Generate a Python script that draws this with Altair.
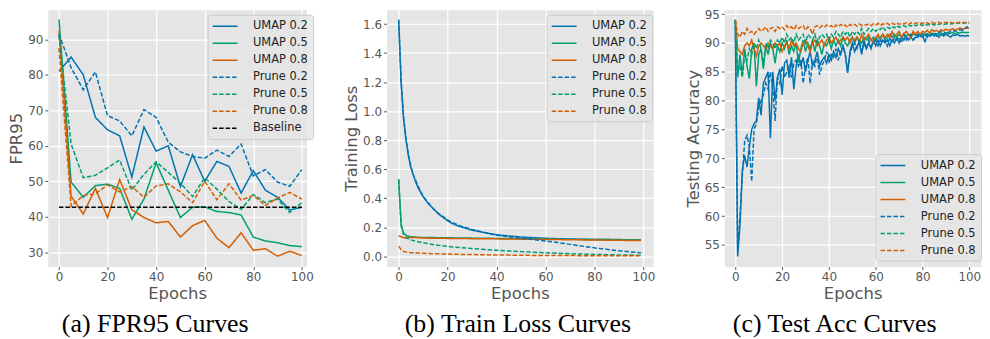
import altair as alt
import pandas as pd

# ---------------- data ----------------
SERIES = ["UMAP 0.2", "UMAP 0.5", "UMAP 0.8", "Prune 0.2", "Prune 0.5", "Prune 0.8"]
COLORS = ["#0173B2", "#029E73", "#D55E00", "#0173B2", "#029E73", "#D55E00"]

# (a) FPR95, every 5 epochs
epochs_a = list(range(0, 101, 5))
fpr_umap02 = [81.0, 85.0, 80.0, 68.0, 64.5, 62.8, 51.2, 65.3, 58.5, 60.0, 48.5,
              57.5, 50.0, 55.6, 54.2, 46.7, 53.0, 47.5, 45.5, 41.9, 42.7]
fpr_umap05 = [95.6, 49.8, 45.5, 48.8, 49.2, 48.0, 39.3, 45.0, 55.2, 47.5, 39.8,
              42.7, 42.8, 41.5, 41.2, 40.5, 34.3, 33.2, 32.7, 31.9, 31.6]
fpr_umap08 = [92.5, 45.8, 40.8, 48.0, 39.8, 50.5, 42.0, 39.8, 38.3, 38.7, 34.3,
              37.5, 39.0, 34.0, 31.3, 35.5, 30.6, 31.0, 28.9, 30.3, 29.1]
fpr_prune02 = [91.5, 82.0, 75.8, 80.8, 68.5, 67.0, 62.8, 70.2, 68.0, 61.0, 58.3,
               57.0, 56.5, 58.8, 57.0, 60.5, 51.5, 53.3, 49.8, 48.6, 53.3]
fpr_prune05 = [91.0, 60.5, 51.0, 51.7, 53.8, 56.0, 47.5, 52.0, 55.5, 52.5, 49.5,
               45.7, 51.0, 47.8, 44.3, 42.1, 46.3, 44.0, 45.0, 41.2, 44.0]
fpr_prune08 = [87.5, 43.0, 46.0, 46.5, 49.0, 47.0, 48.5, 45.5, 48.7, 49.3, 47.0,
               44.0, 50.0, 44.8, 49.3, 44.7, 46.0, 43.2, 45.3, 46.9, 45.0]
baseline_epochs = [0, 100]
baseline_fpr = [42.7, 42.7]

# (b) training loss, read at selected epochs
epochs_b = [0, 1, 2, 3, 4, 5, 6, 7, 8, 9, 10, 12, 14, 16, 18, 20, 22, 25, 28, 30,
            33, 36, 40, 45, 50, 55, 60, 65, 70, 75, 80, 85, 90, 95, 99]
loss_umap02 = [1.63, 1.20, 0.95, 0.80, 0.69, 0.61, 0.56, 0.51, 0.47, 0.44, 0.41,
               0.365, 0.33, 0.295, 0.27, 0.245, 0.225, 0.205, 0.19, 0.18, 0.17,
               0.16, 0.148, 0.14, 0.133, 0.128, 0.124, 0.121, 0.119, 0.117,
               0.116, 0.115, 0.114, 0.113, 0.112]
loss_umap05 = [0.53, 0.22, 0.16, 0.145, 0.138, 0.135, 0.133, 0.132, 0.131, 0.13,
               0.13, 0.129, 0.129, 0.128, 0.128, 0.127, 0.127, 0.126, 0.126,
               0.125, 0.125, 0.124, 0.123, 0.122, 0.121, 0.12, 0.119, 0.118,
               0.117, 0.116, 0.116, 0.115, 0.115, 0.114, 0.114]
loss_umap08 = [0.14, 0.135, 0.128, 0.125, 0.127, 0.13, 0.13, 0.129, 0.128, 0.127,
               0.126, 0.125, 0.125, 0.124, 0.124, 0.123, 0.123, 0.122, 0.122,
               0.121, 0.121, 0.12, 0.12, 0.119, 0.118, 0.117, 0.116, 0.115,
               0.114, 0.113, 0.112, 0.111, 0.11, 0.109, 0.108]
loss_prune02 = [1.63, 1.21, 0.96, 0.81, 0.70, 0.62, 0.56, 0.52, 0.48, 0.445, 0.415,
                0.37, 0.33, 0.30, 0.275, 0.25, 0.232, 0.21, 0.195, 0.185, 0.172,
                0.16, 0.145, 0.135, 0.125, 0.115, 0.105, 0.095, 0.082, 0.07,
                0.058, 0.048, 0.038, 0.03, 0.024]
loss_prune05 = [0.53, 0.21, 0.15, 0.13, 0.12, 0.113, 0.108, 0.104, 0.10, 0.097,
                0.093, 0.087, 0.081, 0.076, 0.072, 0.068, 0.064, 0.06, 0.056,
                0.054, 0.05, 0.046, 0.042, 0.037, 0.032, 0.028, 0.024, 0.021,
                0.018, 0.015, 0.013, 0.011, 0.009, 0.008, 0.007]
loss_prune08 = [0.07, 0.045, 0.035, 0.03, 0.027, 0.025, 0.024, 0.023, 0.022, 0.021,
                0.02, 0.019, 0.018, 0.017, 0.016, 0.015, 0.014, 0.013, 0.012,
                0.012, 0.011, 0.01, 0.009, 0.008, 0.007, 0.006, 0.006, 0.005,
                0.005, 0.004, 0.004, 0.004, 0.003, 0.003, 0.003]

# (c) testing accuracy, every epoch 0..100
epochs_c = list(range(0, 101))
acc_umap02 = [94.0, 53.0, 58.5, 68.0, 70.5, 68.5, 72.0, 75.0, 76.0, 76.5,
              80.5, 77.5, 83.0, 84.0, 85.0, 73.5, 85.0, 80.0, 84.0, 85.5,
              81.0, 86.5, 87.0, 84.0, 87.5, 82.0, 86.0, 88.0, 86.0, 87.5,
              85.0, 87.0, 88.5, 86.0, 87.0, 88.5, 86.0, 87.0, 87.5, 86.5,
              88.0, 87.0, 88.5, 87.5, 89.0, 88.0, 89.5, 88.0, 84.8, 88.5,
              90.0, 88.5, 89.5, 90.0, 88.0, 90.5, 89.0, 90.0, 89.0, 90.5,
              89.5, 90.5, 89.5, 90.5, 90.0, 90.5, 89.5, 90.5, 90.0, 91.0,
              90.0, 91.0, 90.5, 91.0, 90.5, 91.0, 90.5, 91.0, 91.0, 91.5,
              91.0, 91.5, 91.0, 91.5, 91.5, 91.2, 91.5, 91.0, 91.5, 91.2,
              91.5, 91.3, 91.0, 91.4, 91.3, 91.5, 91.2, 91.3, 91.2, 91.3, 91.2]
acc_umap05 = [94.0, 84.0, 88.0, 84.5, 89.0, 86.0, 83.8, 89.0, 90.0, 82.5,
              88.0, 89.0, 85.5, 89.5, 88.0, 90.0, 89.0, 86.5, 89.5, 88.5,
              90.0, 89.0, 90.5, 88.0, 89.5, 88.5, 90.0, 86.5, 89.0, 90.5,
              88.5, 90.0, 89.0, 90.5, 88.5, 90.5, 89.5, 88.0, 90.0, 89.5,
              90.5, 89.0, 90.5, 89.5, 90.5, 89.5, 91.0, 90.0, 89.5, 90.5,
              91.0, 90.0, 91.0, 90.5, 90.0, 91.0, 90.5, 91.0, 90.5, 91.0,
              90.5, 91.0, 91.0, 91.5, 90.5, 91.0, 91.5, 91.0, 91.5, 91.0,
              91.5, 91.0, 91.5, 91.2, 91.5, 91.0, 91.6, 91.3, 91.5, 91.2,
              91.6, 91.4, 91.6, 91.3, 91.7, 91.5, 91.6, 91.4, 91.7, 91.5,
              91.8, 91.6, 91.7, 91.8, 91.6, 91.8, 91.7, 91.9, 91.8, 91.8, 91.8]
acc_umap08 = [94.0, 89.0, 88.5, 88.0, 89.5, 90.0, 89.5, 90.5, 89.0, 87.7,
              89.5, 90.0, 89.5, 89.0, 90.0, 89.5, 89.0, 90.0, 89.5, 90.0,
              88.5, 89.5, 90.0, 89.0, 90.5, 89.5, 90.0, 89.0, 88.5, 90.0,
              90.5, 89.5, 88.5, 90.0, 90.5, 89.5, 90.0, 90.5, 89.5, 90.5,
              91.0, 90.0, 90.5, 91.0, 90.0, 90.5, 91.0, 90.5, 91.0, 90.0,
              91.0, 90.5, 91.0, 90.0, 91.5, 90.5, 91.0, 91.5, 90.5, 90.0,
              91.0, 91.5, 90.5, 91.5, 91.0, 91.5, 91.0, 92.0, 91.0, 91.5,
              92.0, 91.0, 91.5, 92.0, 91.5, 91.0, 92.0, 91.5, 92.0, 91.5,
              92.0, 91.8, 92.2, 91.7, 92.3, 92.0, 92.2, 91.9, 92.3, 92.1,
              92.4, 92.2, 92.3, 92.5, 92.2, 92.4, 92.6, 92.4, 92.5, 92.6, 92.5]
acc_prune02 = [94.0, 54.0, 60.0, 67.0, 73.0, 74.0, 72.0, 66.0, 75.0, 76.0,
               79.0, 80.0, 81.0, 83.0, 82.0, 85.0, 82.0, 76.5, 84.0, 83.0,
               86.0, 84.0, 85.0, 86.0, 84.0, 86.5, 87.0, 86.0, 87.0, 83.0,
               86.0, 87.5, 83.0, 87.0, 86.0, 88.0, 84.5, 86.0, 87.0, 88.5,
               86.5, 88.0, 87.5, 89.0, 87.0, 88.5, 89.5, 88.0, 85.0, 88.0,
               89.5, 90.0, 89.0, 90.5, 88.5, 90.0, 89.0, 90.5, 89.5, 90.0,
               90.5, 89.5, 90.5, 90.0, 90.5, 89.5, 91.0, 90.0, 91.0, 90.5,
               91.0, 90.0, 91.5, 90.5, 91.0, 91.5, 90.5, 91.0, 91.5, 91.0,
               91.5, 90.0, 91.5, 91.0, 91.5, 91.8, 91.2, 91.8, 92.0, 91.5,
               92.0, 91.8, 92.0, 92.2, 92.0, 92.2, 92.3, 92.2, 92.4, 92.8, 92.5]
acc_prune05 = [94.0, 85.0, 86.0, 84.0, 88.0, 87.0, 89.0, 88.0, 90.0, 89.0,
               90.5, 89.0, 86.0, 90.0, 89.0, 90.5, 90.0, 89.0, 90.5, 90.0,
               91.0, 90.0, 91.5, 90.5, 91.0, 90.0, 91.5, 90.5, 91.0, 91.5,
               90.0, 91.5, 91.0, 90.5, 91.5, 90.0, 91.0, 91.5, 91.0, 91.5,
               90.5, 91.5, 91.0, 92.0, 91.5, 91.0, 92.0, 91.5, 92.0, 91.0,
               92.0, 91.5, 92.0, 91.5, 92.5, 91.5, 92.0, 92.5, 92.0, 92.5,
               92.0, 92.5, 92.3, 92.8, 92.2, 92.7, 92.5, 92.9, 92.6, 93.0,
               92.7, 92.9, 93.0, 92.8, 93.1, 92.9, 93.2, 93.0, 93.1, 93.2,
               93.0, 93.3, 93.1, 93.2, 93.3, 93.1, 93.3, 93.2, 93.4, 93.2,
               93.3, 93.4, 93.3, 93.4, 93.3, 93.5, 93.4, 93.4, 93.5, 93.4, 93.4]
acc_prune08 = [94.0, 91.5, 91.0, 92.0, 91.5, 92.5, 91.8, 92.0, 91.5, 92.0,
               92.5, 92.0, 92.3, 92.8, 92.0, 92.5, 92.7, 92.0, 92.8, 92.5,
               92.8, 92.3, 93.0, 92.5, 92.8, 92.3, 93.0, 92.5, 92.8, 93.0,
               92.2, 92.8, 92.5, 91.5, 92.8, 93.0, 92.6, 93.0, 92.7, 93.1,
               92.8, 93.0, 92.6, 93.1, 92.8, 93.2, 92.9, 93.1, 92.7, 93.2,
               93.0, 93.2, 92.9, 93.3, 93.0, 93.2, 93.1, 93.3, 93.0, 93.3,
               93.1, 93.4, 93.0, 93.3, 93.2, 93.4, 93.1, 93.4, 93.2, 93.5,
               93.2, 93.4, 93.3, 93.5, 93.2, 93.5, 93.3, 93.4, 93.5, 93.3,
               93.5, 93.4, 93.5, 93.3, 93.6, 93.4, 93.5, 93.6, 93.4, 93.5,
               93.6, 93.5, 93.6, 93.4, 93.6, 93.5, 93.6, 93.5, 93.6, 93.5, 93.6]


def long_df(parts):
    rows = []
    for name, xs, ys in parts:
        for x, y in zip(xs, ys):
            rows.append({"epoch": x, "value": y, "series": name})
    return pd.DataFrame(rows)


df_a = long_df([
    ("UMAP 0.2", epochs_a, fpr_umap02), ("UMAP 0.5", epochs_a, fpr_umap05),
    ("UMAP 0.8", epochs_a, fpr_umap08), ("Prune 0.2", epochs_a, fpr_prune02),
    ("Prune 0.5", epochs_a, fpr_prune05), ("Prune 0.8", epochs_a, fpr_prune08),
    ("Baseline", baseline_epochs, baseline_fpr)])
df_b = long_df([
    ("UMAP 0.2", epochs_b, loss_umap02), ("UMAP 0.5", epochs_b, loss_umap05),
    ("UMAP 0.8", epochs_b, loss_umap08), ("Prune 0.2", epochs_b, loss_prune02),
    ("Prune 0.5", epochs_b, loss_prune05), ("Prune 0.8", epochs_b, loss_prune08)])
df_c = long_df([
    ("UMAP 0.2", epochs_c, acc_umap02), ("UMAP 0.5", epochs_c, acc_umap05),
    ("UMAP 0.8", epochs_c, acc_umap08), ("Prune 0.2", epochs_c, acc_prune02),
    ("Prune 0.5", epochs_c, acc_prune05), ("Prune 0.8", epochs_c, acc_prune08)])

SOLID = [1, 0]
DASH = [4.5, 2]
FONT = "DejaVu Sans"


def panel(df, names, colors, dashes, xdom, ydom, yticks, yfmt, ytitle,
          leg_x, leg_y, caption, cap_dx, w, h):
    leg = alt.Legend(title=None, orient="none", legendX=leg_x, legendY=leg_y,
                     symbolType="M-2,0H2", symbolSize=156.25, symbolStrokeWidth=1.5,
                     symbolOffset=6,
                     labelFont=FONT, labelFontSize=11.5, labelColor="#222222",
                     labelOffset=21, rowPadding=4.1, padding=4.5,
                     fillColor="rgba(229,229,229,0.8)", strokeColor="#CCCCCC",
                     cornerRadius=3, labelLimit=200)
    return alt.Chart(df).mark_line(strokeWidth=1.5, clip=True).encode(
        x=alt.X("epoch:Q", scale=alt.Scale(domain=xdom, nice=False, zero=False),
                axis=alt.Axis(values=[0, 20, 40, 60, 80, 100], title="Epochs")),
        y=alt.Y("value:Q", scale=alt.Scale(domain=ydom, nice=False, zero=False),
                axis=alt.Axis(values=yticks, format=yfmt, title=ytitle)),
        color=alt.Color("series:N", sort=names,
                        scale=alt.Scale(domain=names, range=colors), legend=leg),
        strokeDash=alt.StrokeDash("series:N", sort=names,
                                  scale=alt.Scale(domain=names, range=dashes), legend=leg),
    ).properties(
        width=w, height=h,
        title=alt.TitleParams(caption, orient="bottom", anchor="middle",
                              font="Liberation Serif", fontSize=26,
                              fontWeight="normal", color="black", offset=9, dx=cap_dx))


H = 258
chart_a = panel(df_a, SERIES + ["Baseline"], COLORS + ["#000000"],
                [SOLID] * 3 + [DASH] * 4, [-4.6, 101.9], [26.0, 98.3],
                [30, 40, 50, 60, 70, 80, 90], "d", "FPR95", 160.7, 5,
                "(a) FPR95 Curves", -22, 260, H)
chart_b = panel(df_b, SERIES, COLORS, [SOLID] * 3 + [DASH] * 3,
                [-4.95, 104.0], [-0.0706, 1.698],
                [0.0, 0.2, 0.4, 0.6, 0.8, 1.0, 1.2, 1.4, 1.6], ".1f",
                "Training Loss", 161, 5, "(b) Train Loss Curves", -2, 268, H)
chart_c = panel(df_c, SERIES, COLORS, [SOLID] * 3 + [DASH] * 3,
                [-4.7, 105.0], [51.26, 95.74], [55, 60, 65, 70, 75, 80, 85, 90, 95],
                "d", "Testing Accuracy", 152, 145, "(c) Test Acc Curves", -18, 258, H)

chart = alt.hconcat(chart_a, chart_b, chart_c, spacing=28.5).resolve_scale(
    color="independent", strokeDash="independent"
).resolve_legend(
    color="independent", strokeDash="independent"
).properties(
    padding={"left": 0, "top": -2, "right": 0, "bottom": 0}
).configure_view(
    fill="#E5E5E5", stroke="transparent"
).configure_axis(
    labelFont=FONT, labelFontSize=12, labelColor="#555555", labelPadding=2,
    titleFont=FONT, titleFontSize=16.5, titleColor="#555555",
    titleFontWeight="normal", titlePadding=3,
    gridColor="#FFFFFF", gridWidth=1.2, domain=False,
    tickColor="#555555", tickSize=3
)

chart.save("out.html", embed_options={"renderer": "svg", "actions": False})
